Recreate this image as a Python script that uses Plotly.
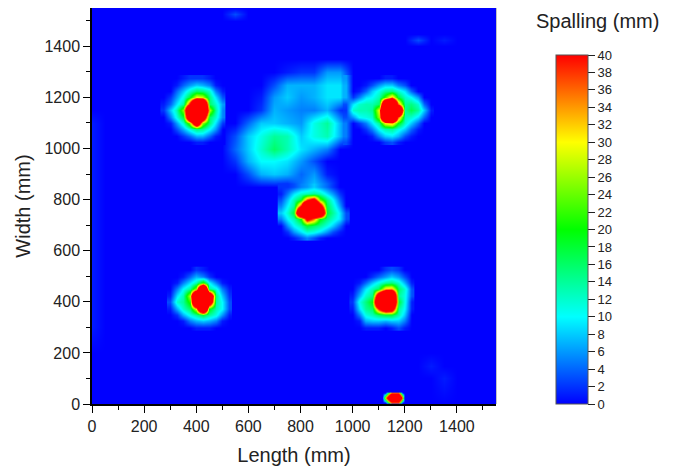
import plotly.graph_objects as go

# --- Coarse field: faint background, central spalled cloud, isolated faint spots
length_mm = [0, 50, 100, 150, 200, 250, 300, 350, 400, 450, 500, 550, 600, 650, 700, 750,
             800, 850, 900, 950, 1000, 1050, 1100, 1150, 1200, 1250, 1300, 1350, 1400, 1450, 1500, 1550]
width_mm = [1550, 1525, 1500, 1450, 1425, 1400, 1350, 1300, 1250, 1200, 1150, 1100, 1050, 1000, 950, 900, 850,
            800, 600, 300, 200, 150, 100, 0]
spalling_mm = [
    [0]*32,
    [0, 0, 0, 0, 0, 0, 0, 0, 0, 0, 0, 3, 0, 0, 0, 0, 0, 0, 0, 0, 0, 0, 0, 0, 0, 0, 0, 0, 0, 0, 0, 0],
    [0]*32,
    [0]*32,
    [0, 0, 0, 0, 0, 0, 0, 0, 0, 0, 0, 0, 0, 0, 0, 0, 0, 0, 0, 0, 0, 0, 0, 0, 0, 3, 0, 1, 0, 0, 0, 0],
    [0]*32,
    [0]*32,
    [0, 0, 0, 0, 0, 0, 0, 0, 0, 0, 0, 0, 0, 0, 0, 1, 2, 2, 6, 6, 0, 0, 0, 0, 0, 0, 0, 0, 0, 0, 0, 0],
    [0, 0, 0, 0, 0, 0, 0, 0, 0, 0, 0, 0, 0, 0, 3, 7, 7, 7, 9, 9, 0, 0, 0, 0, 0, 0, 0, 0, 0, 0, 0, 0],
    [0, 0, 0, 0, 0, 0, 0, 0, 0, 0, 0, 0, 0, 1, 6, 8, 6, 7, 9, 9, 0, 0, 0, 0, 0, 0, 0, 0, 0, 0, 0, 0],
    [0, 0, 0, 0, 0, 0, 0, 0, 0, 0, 0, 0, 0, 2, 7, 6, 5, 5, 7, 2, 0, 0, 0, 0, 0, 0, 0, 0, 0, 0, 0, 0],
    [1, 0, 0, 0, 0, 0, 0, 0, 0, 0, 0, 0, 4, 8, 8, 7, 6, 11, 14, 7, 0, 0, 0, 0, 0, 0, 0, 0, 0, 0, 0, 0],
    [1, 0, 0, 0, 0, 0, 0, 0, 0, 0, 0, 3, 8, 11, 14, 13, 8, 11, 13, 7, 0, 0, 0, 0, 0, 0, 0, 0, 0, 0, 0, 0],
    [1, 0, 0, 0, 0, 0, 0, 0, 0, 0, 0, 4, 8, 12, 16, 13, 9, 7, 5, 0, 0, 0, 0, 0, 0, 0, 0, 0, 0, 0, 0, 0],
    [1, 0, 0, 0, 0, 0, 0, 0, 0, 0, 0, 2, 7, 10, 10, 9, 6, 3, 0, 0, 0, 0, 0, 0, 0, 0, 0, 0, 0, 0, 0, 0],
    [1, 0, 0, 0, 0, 0, 0, 0, 0, 0, 0, 0, 3, 7, 8, 7, 4, 6, 1, 0, 0, 0, 0, 0, 0, 0, 0, 0, 0, 0, 0, 0],
    [1, 0, 0, 0, 0, 0, 0, 0, 0, 0, 0, 0, 0, 0, 0, 0, 5, 8, 5, 0, 0, 0, 0, 0, 0, 0, 0, 0, 0, 0, 0, 0],
    [1, 0, 0, 0, 0, 0, 0, 0, 0, 0, 0, 0, 0, 0, 0, 0, 0, 0, 0, 0, 0, 0, 0, 0, 0, 0, 0, 0, 0, 0, 0, 0],
    [1, 0, 0, 0, 0, 0, 0, 0, 0, 0, 0, 0, 0, 0, 0, 0, 0, 0, 0, 0, 0, 0, 0, 0, 0, 0, 0, 0, 0, 0, 0, 0],
    [1, 0, 0, 0, 0, 0, 0, 0, 0, 0, 0, 0, 0, 0, 0, 0, 0, 0, 0, 0, 0, 0, 0, 0, 0, 0, 0, 0, 0, 0, 0, 0],
    [0]*32,
    [0, 0, 0, 0, 0, 0, 0, 0, 0, 0, 0, 0, 0, 0, 0, 0, 0, 0, 0, 0, 0, 0, 0, 0, 0, 0, 1, 0, 0, 0, 0, 0],
    [0, 0, 0, 0, 0, 0, 0, 0, 0, 0, 0, 0, 0, 0, 0, 0, 0, 0, 0, 0, 0, 0, 0, 0, 0, 0, 0, 1, 0, 0, 0, 0],
    [0]*32,
]

# --- Column hotspot A (upper left)
spot_a_x = [275, 300, 325, 350, 375, 400, 425, 450, 475, 500]
spot_a_y = [1275, 1250, 1225, 1200, 1175, 1150, 1125, 1100, 1075, 1050, 1025]
spot_a_z = [
    [0, 0, 0, 1, 2, 2, 2, 1, 0, 0],
    [0, 0, 1, 4, 6, 8, 7, 5, 1, 0],
    [0, 0, 4, 8, 12, 16, 15, 12, 5, 1],
    [0, 2, 6, 11, 18, 30, 28, 15, 9, 3],
    [1, 4, 9, 14, 42, 90, 90, 16, 12, 6],
    [2, 8, 13, 26, 90, 90, 90, 28, 14, 5],
    [0, 5, 11, 18, 70, 90, 60, 16, 12, 5],
    [0, 1, 6, 12, 24, 62, 26, 15, 9, 2],
    [0, 0, 3, 7, 11, 15, 14, 10, 6, 0],
    [0, 0, 0, 2, 4, 7, 7, 4, 1, 0],
    [0, 0, 0, 0, 0, 1, 1, 0, 0, 0],
]

# --- Column hotspot B (upper right, with side wings)
spot_b_x = [975, 1000, 1025, 1050, 1075, 1100, 1125, 1150, 1175, 1200, 1225, 1250, 1275, 1300]
spot_b_y = [1275, 1250, 1225, 1200, 1175, 1150, 1125, 1100, 1075, 1050, 1025]
spot_b_z = [
    [6, 0, 0, 0, 0, 0, 1, 1, 0, 0, 0, 0, 0, 0],
    [7, 0, 0, 1, 3, 6, 8, 8, 5, 3, 0, 0, 0, 0],
    [7, 0, 1, 4, 8, 11, 14, 15, 12, 9, 4, 0, 0, 0],
    [7, 2, 5, 9, 10, 13, 22, 34, 18, 12, 10, 6, 0, 0],
    [3, 9, 12, 13, 13, 16, 75, 90, 38, 14, 15, 12, 4, 0],
    [2, 12, 13, 13, 14, 30, 90, 90, 90, 14, 17, 14, 8, 1],
    [3, 6, 10, 11, 12, 26, 85, 90, 38, 13, 12, 9, 4, 0],
    [5, 0, 2, 5, 9, 14, 30, 34, 20, 12, 8, 4, 0, 0],
    [5, 0, 0, 2, 5, 10, 13, 14, 11, 8, 4, 1, 0, 0],
    [5, 0, 0, 0, 1, 5, 8, 9, 7, 3, 1, 0, 0, 0],
    [3, 0, 0, 0, 0, 0, 2, 3, 1, 0, 0, 0, 0, 0],
]

# --- Column hotspot C (centre)
spot_c_x = [725, 750, 775, 800, 825, 850, 875, 900, 925, 950, 975]
spot_c_y = [850, 825, 800, 775, 750, 725, 700, 675, 650]
spot_c_z = [
    [2, 2, 3, 5, 6, 8, 6, 4, 2, 0, 0],
    [1, 5, 9, 12, 13, 14, 13, 9, 6, 2, 0],
    [3, 8, 13, 18, 38, 48, 24, 15, 10, 4, 0],
    [5, 10, 14, 40, 90, 90, 50, 17, 12, 6, 0],
    [8, 12, 18, 90, 90, 90, 90, 18, 14, 9, 3],
    [5, 10, 13, 20, 46, 36, 20, 15, 12, 9, 3],
    [0, 6, 10, 13, 18, 16, 14, 11, 8, 4, 0],
    [0, 2, 6, 9, 12, 11, 9, 6, 3, 1, 0],
    [0, 0, 1, 3, 5, 3, 1, 0, 0, 0, 0],
]

# --- Column hotspot D (lower left)
spot_d_x = [300, 325, 350, 375, 400, 425, 450, 475, 500, 525]
spot_d_y = [525, 500, 475, 450, 425, 400, 375, 350, 325, 300]
spot_d_z = [
    [0, 0, 0, 0, 2, 1, 0, 0, 0, 0],
    [0, 0, 1, 4, 7, 5, 2, 0, 0, 0],
    [0, 1, 5, 9, 13, 22, 10, 5, 1, 0],
    [0, 5, 10, 14, 26, 90, 14, 11, 5, 1],
    [1, 9, 13, 28, 90, 90, 70, 15, 8, 2],
    [3, 12, 14, 22, 90, 90, 60, 14, 10, 3],
    [1, 7, 12, 16, 30, 90, 20, 13, 10, 3],
    [0, 2, 7, 11, 14, 18, 14, 11, 6, 1],
    [0, 0, 1, 5, 7, 8, 7, 5, 1, 0],
    [0, 0, 0, 0, 1, 1, 1, 0, 0, 0],
]

# --- Column hotspot E (lower right)
spot_e_x = [1000, 1025, 1050, 1075, 1100, 1125, 1150, 1175, 1200, 1225]
spot_e_y = [525, 500, 475, 450, 425, 400, 375, 350, 325, 300]
spot_e_z = [
    [0, 0, 0, 0, 0, 2, 3, 2, 0, 0],
    [0, 0, 0, 2, 4, 6, 8, 6, 3, 0],
    [0, 1, 4, 8, 11, 14, 15, 12, 7, 1],
    [0, 4, 9, 13, 16, 32, 34, 16, 12, 3],
    [1, 7, 12, 15, 60, 90, 90, 14, 11, 3],
    [2, 11, 15, 20, 90, 90, 90, 18, 11, 1],
    [1, 9, 14, 16, 40, 60, 55, 14, 10, 1],
    [0, 5, 11, 13, 16, 18, 18, 13, 8, 0],
    [0, 1, 7, 8, 8, 7, 8, 8, 5, 0],
    [0, 0, 1, 1, 1, 0, 1, 3, 1, 0],
]

# --- Small spot on the bottom edge
spot_f_x = [1115, 1125, 1150, 1175, 1190, 1200]
spot_f_y = [50, 45, 25, 5, 0]
spot_f_z = [
    [0, 0, 0, 0, 0, 0],
    [0, 0, 36, 36, 0, 0],
    [0, 30, 90, 90, 36, 0],
    [0, 0, 36, 36, 0, 0],
    [0, 0, 0, 0, 0, 0],
]

color_stops = [[0.0, "rgb(0,0,255)"], [0.25, "rgb(0,255,255)"], [0.5, "rgb(0,255,0)"],
               [0.75, "rgb(255,255,0)"], [1.0, "rgb(255,0,0)"]]
axis_ticks = [0, 200, 400, 600, 800, 1000, 1200, 1400]
FONT = "Liberation Sans, Arial, sans-serif"
INK = "#222222"

fig = go.Figure(go.Heatmap(
    x=length_mm,
    y=width_mm[::-1],
    z=spalling_mm[::-1],
    zmin=0, zmax=40,
    zsmooth="best",
    colorscale=color_stops,
    colorbar=dict(
        x=1.148, xanchor="left", xpad=0,
        y=0, yanchor="bottom", ypad=0,
        lenmode="pixels", len=349,
        thicknessmode="pixels", thickness=32,
        outlinecolor="#555555", outlinewidth=1,
        tickmode="linear", tick0=0, dtick=2,
        ticks="outside", ticklen=7, tickwidth=1, tickcolor="#222222",
        tickfont=dict(family=FONT, size=13, color=INK),
    ),
))

for px, py, pz in [(spot_a_x, spot_a_y, spot_a_z), (spot_b_x, spot_b_y, spot_b_z),
                   (spot_c_x, spot_c_y, spot_c_z), (spot_d_x, spot_d_y, spot_d_z),
                   (spot_e_x, spot_e_y, spot_e_z), (spot_f_x, spot_f_y, spot_f_z)]:
    fig.add_trace(go.Heatmap(x=px, y=py[::-1], z=pz[::-1], zmin=0, zmax=40, zsmooth="best",
                             colorscale=color_stops, showscale=False))

axis_style = dict(
    range=[0, 1550], tickvals=axis_ticks, ticks="outside", ticklen=7, tickwidth=1.3,
    tickcolor="black", showline=True, linecolor="black", linewidth=1.5, showgrid=False,
    zeroline=False, tickfont=dict(family=FONT, size=16, color=INK),
    minor=dict(tickmode="linear", tick0=0, dtick=100, ticks="outside", ticklen=4, tickwidth=1, tickcolor="black"),
)

fig.update_xaxes(**axis_style, title=dict(text="Length (mm)", font=dict(family=FONT, size=20, color=INK), standoff=14))
fig.update_yaxes(**axis_style, title=dict(text="Width (mm)", font=dict(family=FONT, size=20, color=INK), standoff=8))

fig.update_layout(
    width=670, height=460,
    margin=dict(l=83.5, r=182, t=0, b=63.5, pad=0),
    paper_bgcolor="white", plot_bgcolor="rgb(0,0,255)",
    shapes=[dict(type="rect", xref="x domain", yref="y domain", x0=0, x1=1, y0=0, y1=1,
                 line=dict(color="#888888", width=1), layer="below")],
    annotations=[dict(text="Spalling (mm)", xref="paper", yref="paper", x=1.252, y=1.0,
                      xanchor="center", yanchor="middle", yshift=-13, showarrow=False,
                      font=dict(family=FONT, size=20, color=INK))],
)

fig.write_html("out.html", config=dict(displayModeBar=False))
